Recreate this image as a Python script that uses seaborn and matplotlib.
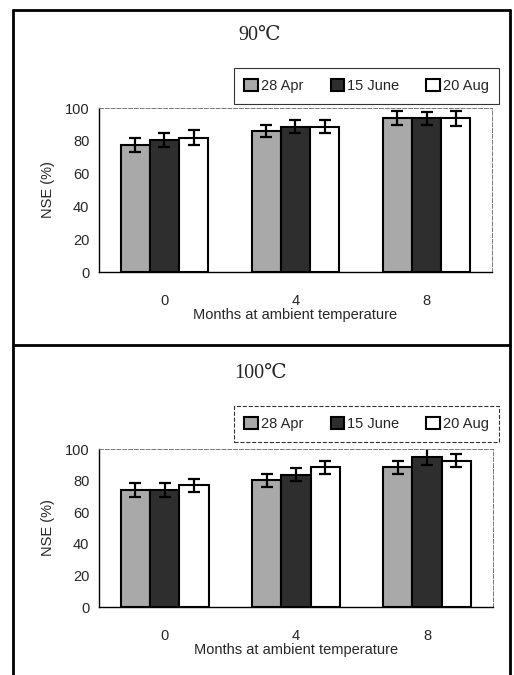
import numpy as np
import pandas as pd
import seaborn as sns
import matplotlib.pyplot as plt
from matplotlib.lines import Line2D

# data
months = ["0", "4", "8"]
dates = ["28 Apr", "15 June", "20 Aug"]
nse_90 = {"28 Apr": [77.4, 86.0, 93.7],
          "15 June": [80.5, 88.6, 93.7],
          "20 Aug": [82.0, 88.6, 93.7]}
err_90 = {"28 Apr": [4.3, 3.6, 4.2],
          "15 June": [4.0, 3.9, 4.0],
          "20 Aug": [4.3, 3.9, 4.5]}
nse_100 = {"28 Apr": [74.2, 80.2, 88.4],
           "15 June": [74.2, 83.7, 95.1],
           "20 Aug": [77.0, 88.4, 92.6]}
err_100 = {"28 Apr": [4.3, 4.2, 4.2],
           "15 June": [4.3, 4.2, 5.3],
           "20 Aug": [4.2, 4.2, 4.0]}
panel_titles = ["90\u2103", "100\u2103"]
colors = ["#a9a9a9", "#2e2e2e", "#ffffff"]

sns.set_style("white")
plt.rcParams["font.family"] = ["Liberation Sans", "DejaVu Sans"]


def to_frame(vals):
    rows = []
    for d in dates:
        for m, v in zip(months, vals[d]):
            rows.append({"month": m, "date": d, "nse": v})
    return pd.DataFrame(rows)


def draw_panel(ax, vals, errs):
    df = to_frame(vals)
    sns.barplot(data=df, x="month", y="nse", hue="date", order=months,
                hue_order=dates, palette=colors, width=0.67, errorbar=None,
                edgecolor="black", linewidth=1.5, saturation=1, ax=ax)
    # error bars centred on the drawn bars
    bars = [p for p in ax.patches if p.get_height() > 0]
    for i, d in enumerate(dates):
        for j in range(len(months)):
            p = bars[i * len(months) + j]
            ax.errorbar(p.get_x() + p.get_width() / 2, vals[d][j], yerr=errs[d][j],
                        fmt="none", ecolor="black", elinewidth=1.6,
                        capsize=4, capthick=1.6)
    handles, labels = ax.get_legend_handles_labels()
    ax.get_legend().remove()
    ax.set_ylim(0, 100)
    ax.set_xlim(-0.5, 2.5)
    ax.set_yticks(range(0, 101, 20))
    ax.set_xticks([0.5, 1.5], minor=True)
    ax.tick_params(axis="x", which="major", length=0, pad=16, labelsize=10.5)
    ax.tick_params(axis="x", which="minor", length=4, direction="out", color="black")
    ax.tick_params(axis="y", length=4, direction="out", color="black", labelsize=10.5, pad=3)
    ax.set_xlabel("Months at ambient temperature", fontsize=10.5, labelpad=0)
    ax.set_ylabel("NSE (%)", fontsize=10.5, labelpad=7)
    for s in ["left", "bottom"]:
        ax.spines[s].set_color("black")
        ax.spines[s].set_linewidth(1.0)
    for s in ["top", "right"]:
        ax.spines[s].set_color("#777777")
        ax.spines[s].set_linestyle((0, (4, 2)))
        ax.spines[s].set_linewidth(0.7)
    return handles, labels


fig = plt.figure(figsize=(5.14, 6.75), dpi=100)
ax1 = fig.add_axes([0.1926, 0.597, 0.7646, 0.243])
ax2 = fig.add_axes([0.1926, 0.1007, 0.766, 0.234])

h, l = draw_panel(ax1, nse_90, err_90)
draw_panel(ax2, nse_100, err_100)

fig.text(0.506, 0.948, panel_titles[0], ha="center", va="center", fontsize=14.5,
         family=["Liberation Serif", "DejaVu Serif"])
fig.text(0.506, 0.447, panel_titles[1], ha="center", va="center", fontsize=14.5,
         family=["Liberation Serif", "DejaVu Serif"])

for yc, ls in [(0.873, "-"), (0.372, "--")]:
    leg = fig.legend(h, l, loc="center", bbox_to_anchor=(0.713, yc), ncol=3,
                     fontsize=10.5, frameon=True, fancybox=False, handlelength=0.9,
                     handleheight=0.9, handletextpad=0.2, columnspacing=1.9,
                     borderpad=0.75)
    fr = leg.get_frame()
    fr.set_edgecolor("black")
    fr.set_linewidth(0.8)
    fr.set_linestyle(ls)

# outer frame of the figure panels
frame_kw = dict(color="black", lw=2, transform=fig.transFigure)
fig.add_artist(Line2D([0.0253, 0.0253], [0.985, 0.0], **frame_kw))
fig.add_artist(Line2D([0.992, 0.992], [0.985, 0.0], **frame_kw))
fig.add_artist(Line2D([0.0253, 0.992], [0.985, 0.985], **frame_kw))
fig.add_artist(Line2D([0.0253, 0.992], [0.489, 0.489], **frame_kw))

fig.savefig("out.png", dpi=100)
